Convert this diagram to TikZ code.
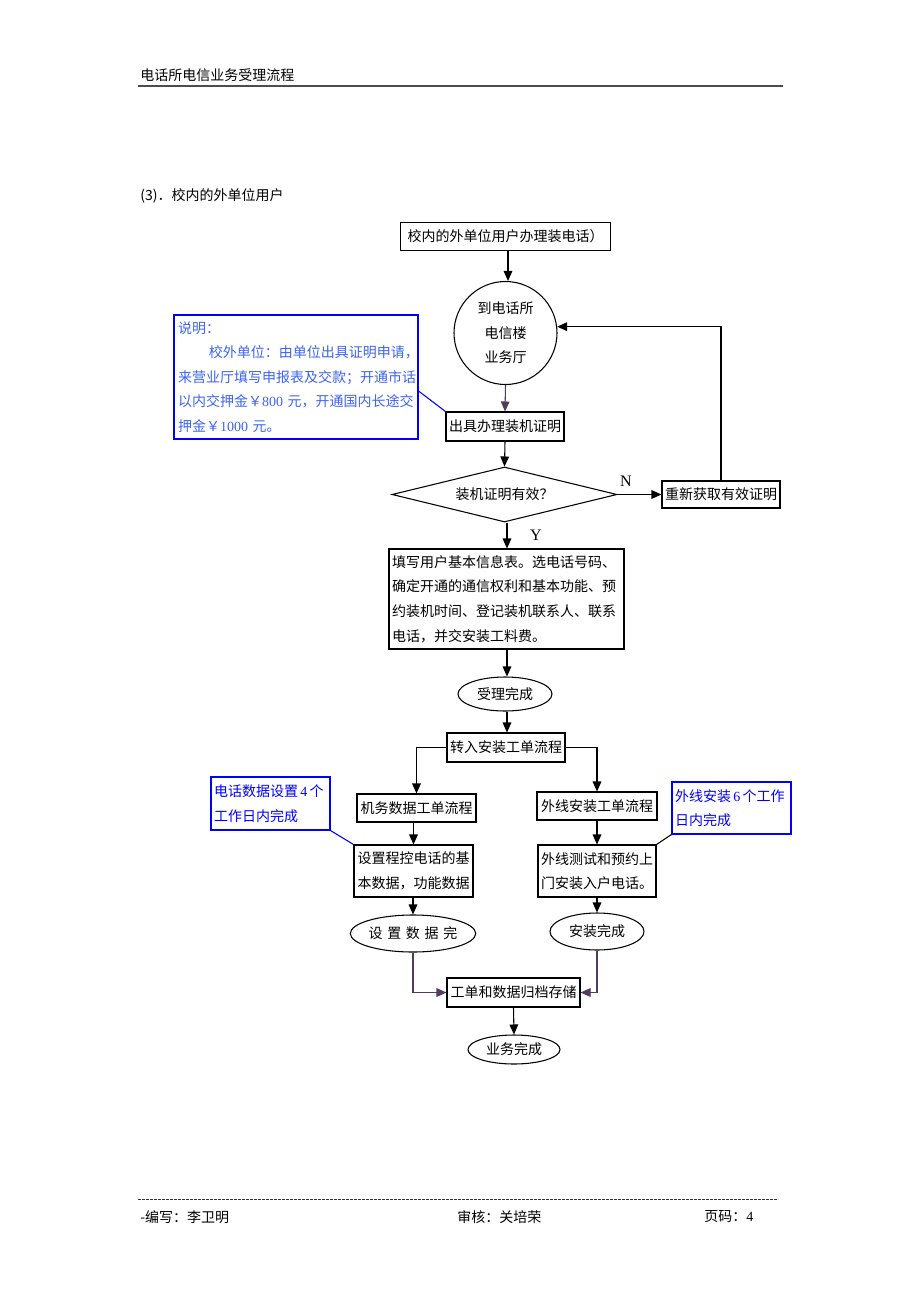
\documentclass[tikz,border=0pt]{standalone}
\usepackage{fontspec}
\setmainfont{Noto Sans CJK SC}
\newfontfamily\lat{Liberation Serif}
\usetikzlibrary{shapes.geometric,arrows.meta}
\definecolor{noteblue}{RGB}{0,0,255}
\definecolor{notetext}{RGB}{60,100,245}
\definecolor{dimline}{RGB}{80,60,95}
\tikzset{
  every node/.style={font=\fontsize{10.5}{18.4}\selectfont, inner sep=0pt},
  box/.style={draw, line width=0.8pt, rectangle, align=center},
  oval/.style={draw, line width=0.8pt, ellipse, inner sep=0pt},
  note/.style={draw=noteblue, line width=0.8pt, rectangle, align=left, text=noteblue},
  arr/.style={line width=0.8pt, -{Triangle[length=7.5pt,width=6.5pt]}},
  plain/.style={line width=0.8pt},
}
\begin{document}
\begin{tikzpicture}[x=0.75pt,y=-0.75pt]
\useasboundingbox[fill=white] (0,0) rectangle (920,1302);
% header
\node[anchor=west] (hdr) at (140,75) {电话所电信业务受理流程};
\coordinate (hl) at (138,86); \coordinate (hr) at (783,86);
\draw[line width=1.8pt, color=black!70] (hl) -- (hr);
\node[anchor=west] (sec) at (140,196) {(3)．校内的外单位用户};
% nodes
\node[box, minimum width=210*0.75pt, minimum height=28*0.75pt] (t) at (505.5,236.5) {校内的外单位用户办理装电话）};
\node[draw, circle, line width=0.8pt, minimum size=103*0.75pt, align=center] (c) at (505.5,333) {到电话所\\电信楼\\业务厅};
\node[box, minimum width=118*0.75pt, minimum height=29*0.75pt] (b2) at (505,426.5) {出具办理装机证明};
\node[note, text=notetext, minimum width=244*0.75pt, minimum height=124*0.75pt, text width=236*0.75pt] (n1) at (296,377)
 {说明：\\\hspace*{2.2em}校外单位：由单位出具证明申请，\\来营业厅填写申报表及交款；开通市话\\以内交押金￥{\lat 800} 元，开通国内长途交\\押金￥{\lat 1000} 元。};
\draw[noteblue, line width=0.8pt] (n1.east |- 0,391) -- (b2.north west);
\node[draw, diamond, aspect=4.1, line width=0.8pt, minimum width=225*0.75pt, minimum height=55*0.75pt] (d) at (504.5,494.5) {装机证明有效？};
\node[box, minimum width=118*0.75pt, minimum height=27*0.75pt] (b3) at (721,494.5) {重新获取有效证明};
\node (nl) at (626,481) {\lat\fontsize{12}{14}\selectfont N};
\node (yl) at (536,535) {\lat\fontsize{12}{14}\selectfont Y};
\node[box, align=left, minimum width=235*0.75pt, minimum height=100*0.75pt, text width=229*0.75pt] (b4) at (506.5,599)
 {填写用户基本信息表。选电话号码、\\确定开通的通信权利和基本功能、预\\约装机时间、登记装机联系人、联系\\电话，并交安装工料费。};
\node[oval, minimum width=94*0.75pt, minimum height=34*0.75pt] (e1) at (505,694) {受理完成};
\node[box, minimum width=118*0.75pt, minimum height=29*0.75pt] (b5) at (506,747.5) {转入安装工单流程};
\node[box, minimum width=119*0.75pt, minimum height=28*0.75pt] (b6) at (416.5,808) {机务数据工单流程};
\node[box, minimum width=120*0.75pt, minimum height=28*0.75pt] (b7) at (597,806) {外线安装工单流程};
\node[note, minimum width=119*0.75pt, minimum height=53*0.75pt, text width=113*0.75pt] (n2) at (270.5,803.5) {\color{noteblue}电话数据设置\,{\lat 4}\,个\\\color{noteblue}工作日内完成};
\node[note, minimum width=119*0.75pt, minimum height=52*0.75pt, text width=113*0.75pt] (n3) at (731.5,808) {\color{noteblue}外线安装\,{\lat 6}\,个工作\\\color{noteblue}日内完成};
\node[box, align=left, minimum width=119*0.75pt, minimum height=52*0.75pt] (b8) at (413.5,871) {设置程控电话的基\\本数据，功能数据};
\node[box, align=left, minimum width=118*0.75pt, minimum height=52*0.75pt] (b9) at (597,871) {外线测试和预约上\\门安装入户电话。};
\node[oval, minimum width=122*0.75pt, minimum height=37*0.75pt] (e2) at (413,933.5) {设\,\,置\,\,数\,\,据\,\,完};
\node[oval, minimum width=94*0.75pt, minimum height=37*0.75pt] (e3) at (597,931.5) {安装完成};
\node[box, minimum width=133*0.75pt, minimum height=29*0.75pt] (b10) at (513.5,992.5) {工单和数据归档存储};
\node[oval, minimum width=92*0.75pt, minimum height=29*0.75pt] (e4) at (514,1049.5) {业务完成};
% connectors
\draw[arr] (t.south -| 508,0) -- (c.north -| 508,0);
\draw[arr, dimline] (c.south) -- (b2.north);
\draw[arr] (b2.south) -- (d.north);
\draw[arr] (d.east) -- (b3.west);
\draw[arr] (b3.north) |- (c.7);
\draw[arr] (d.south -| 507,0) -- (b4.north -| 507,0);
\draw[arr] (b4.south -| 507,0) -- (e1.north -| 507,0);
\draw[arr] (e1.south -| 507,0) -- (b5.north -| 507,0);
\draw[arr] (b5.west) -| (b6.north);
\draw[arr] (b5.east) -| (b7.north);
\draw[noteblue, line width=0.8pt] (n2.south east) -- (b8.north west);
\draw[plain] (n3.south west) -- (b9.north east);
\draw[arr] (b6.south -| b8.north) -- (b8.north);
\draw[arr] (b7.south) -- (b9.north);
\draw[arr] (b8.south -| e2.north) -- (e2.north);
\draw[arr] (b9.south -| e3.north) -- (e3.north);
\draw[arr, dimline] (e2.south) |- (b10.west);
\draw[arr, dimline] (e3.south) |- (b10.east);
\draw[arr] (b10.south) -- (e4.north);
% footer
\coordinate (fl) at (138,1199); \coordinate (fr) at (778,1199);
\draw[line width=0.5pt, dash pattern=on 2pt off 1pt, black!80] (fl) -- (fr);
\node[anchor=west] (f1) at (140,1217) {-编写：李卫明};
\node[anchor=west] (f2) at (457,1217) {审核：关培荣};
\node[anchor=west] (f3) at (704,1217) {页码：{\lat 4}};
\end{tikzpicture}
\end{document}
